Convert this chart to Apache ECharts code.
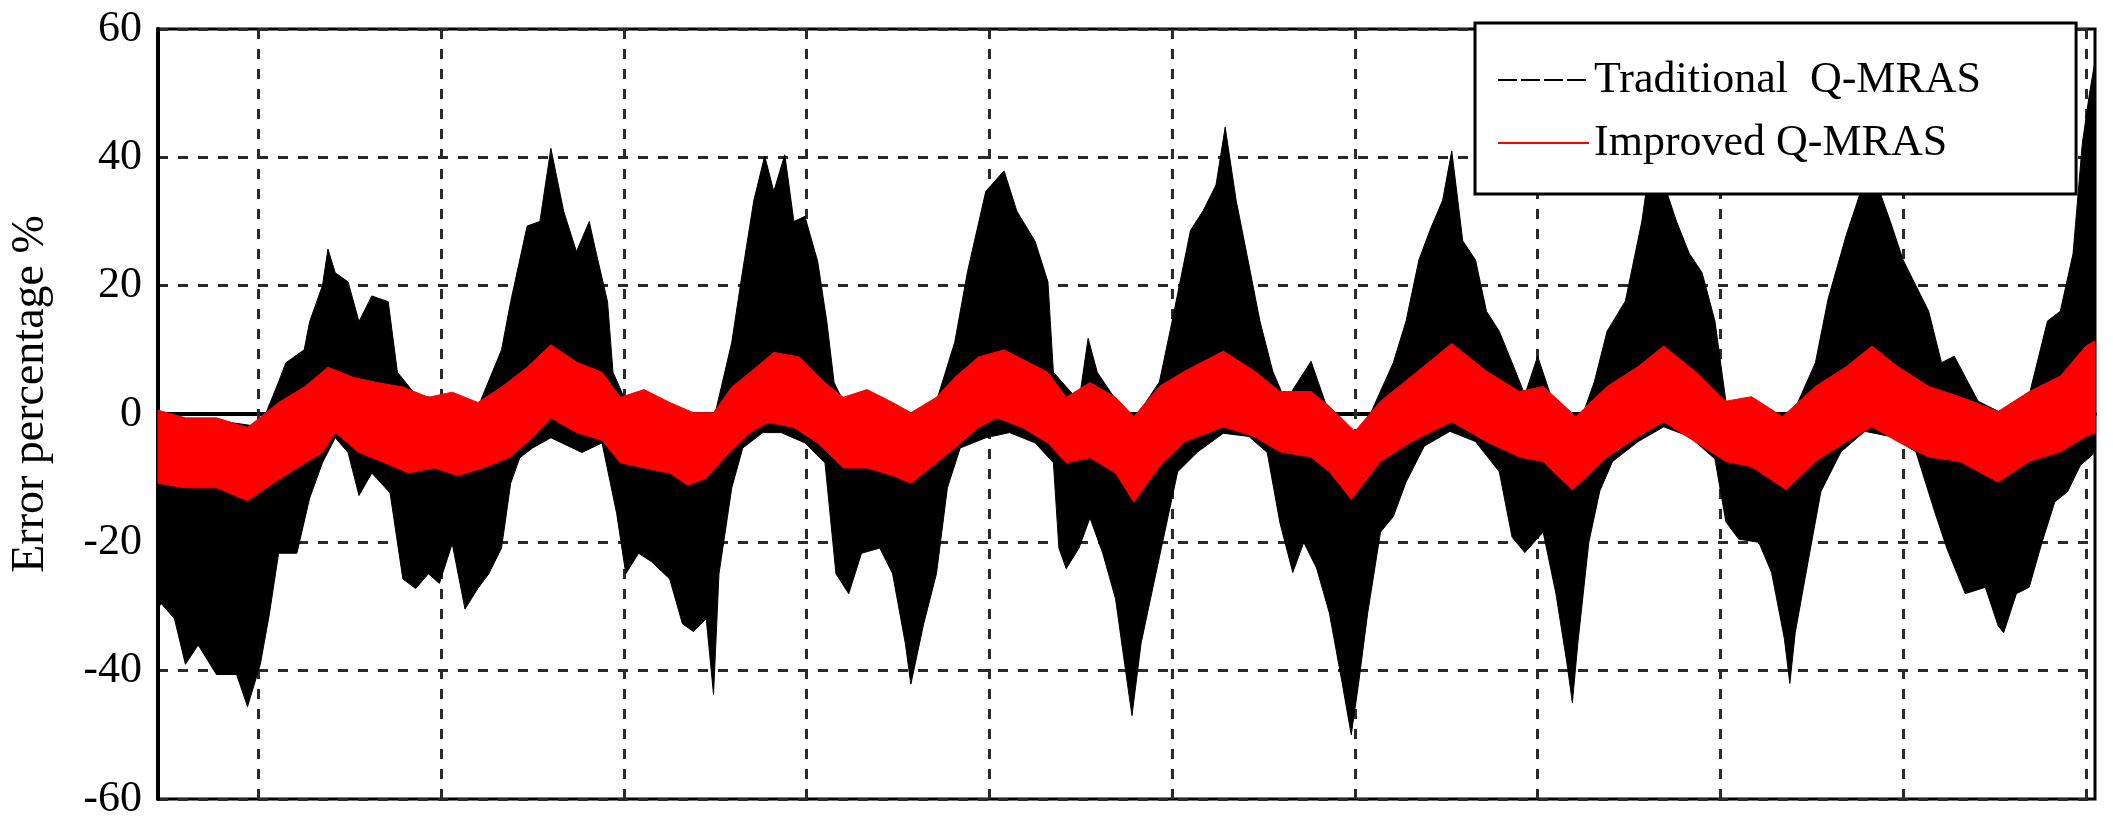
<!DOCTYPE html>
<html>
<head>
<meta charset="utf-8">
<script src="https://cdn.jsdelivr.net/npm/echarts@6/dist/echarts.min.js"></script>
<style>
html, body { margin: 0; padding: 0; background: #fff; }
#chart { width: 2113px; height: 830px; }
</style>
</head>
<body>
<div id="chart"></div>
<script>
// time (s) where the dashed vertical grid lines sit
const xGridTicks = [0.1, 0.2, 0.3, 0.4, 0.5, 0.6, 0.7, 0.8, 0.9, 1.0, 1.1];

// Traditional Q-MRAS: upper / lower edge of the noisy band, [t, error %]
const tradUpper = [
  [0.045, -1], [0.077, -1], [0.101, -2], [0.111, 5], [0.115, 8], [0.125, 10], [0.128, 14.4],
  [0.135, 20], [0.138, 25.7], [0.142, 22], [0.149, 20.6], [0.155, 14.4], [0.162, 18.4],
  [0.171, 17.5], [0.176, 6.5], [0.186, 3], [0.206, 2], [0.220, 1], [0.233, 10], [0.238, 17.5],
  [0.247, 29.3], [0.254, 30], [0.260, 41.4], [0.267, 31.6], [0.274, 25.3], [0.281, 30],
  [0.284, 26.1], [0.291, 17.5], [0.294, 6.5], [0.301, 2], [0.325, 1], [0.349, -1],
  [0.359, 11.2], [0.364, 20.6], [0.371, 33.2], [0.377, 40.2], [0.382, 34.7], [0.388, 40.4],
  [0.393, 30], [0.399, 30.8], [0.406, 23.8], [0.411, 14.4], [0.415, 4.9], [0.420, 2],
  [0.433, 2.5], [0.457, -1], [0.471, 2], [0.481, 11.2], [0.488, 22.2], [0.498, 34.7],
  [0.508, 37.9], [0.515, 31.6], [0.525, 26.9], [0.532, 20.6], [0.535, 6.5], [0.549, 2],
  [0.554, 11.8], [0.559, 6.5], [0.572, 1], [0.579, -1], [0.593, 5], [0.600, 14.5],
  [0.610, 28.6], [0.617, 31.7], [0.624, 35.7], [0.629, 44.7], [0.635, 33.3], [0.641, 24.7],
  [0.648, 14.5], [0.655, 6.7], [0.662, 2], [0.676, 8.2], [0.686, 0], [0.700, -5], [0.710, 1],
  [0.721, 8], [0.728, 14.5], [0.735, 24], [0.741, 28.6], [0.748, 33.3], [0.753, 41],
  [0.759, 27], [0.766, 24], [0.772, 16], [0.779, 12.9], [0.786, 8], [0.793, 3], [0.800, 9],
  [0.807, 3], [0.821, -3], [0.831, 5], [0.838, 12.9], [0.848, 17.6], [0.857, 30], [0.862, 40],
  [0.869, 36], [0.876, 30], [0.883, 25], [0.890, 22], [0.897, 14.5], [0.903, 2], [0.910, 1],
  [0.924, 1], [0.938, -1], [0.952, 8], [0.959, 18], [0.969, 28], [0.976, 34], [0.983, 38],
  [0.993, 30], [1.000, 24], [1.007, 20], [1.014, 16], [1.021, 8], [1.028, 9], [1.041, 2],
  [1.055, 0], [1.069, 3], [1.079, 14.5], [1.086, 16], [1.093, 25], [1.098, 42], [1.102, 50],
  [1.105, 55]
];
const tradLower = [
  [0.045, -30], [0.047, -29.6], [0.054, -31.9], [0.060, -39], [0.067, -36], [0.077, -40.6],
  [0.088, -40.6], [0.094, -45.6], [0.101, -39], [0.106, -31.1], [0.111, -21.7], [0.121, -21.7],
  [0.128, -13.1], [0.135, -7.6], [0.142, -3.7], [0.149, -6], [0.155, -12.7], [0.162, -9.2],
  [0.172, -12.3], [0.179, -25.7], [0.186, -27.2], [0.193, -24.9], [0.199, -26.4], [0.206, -20.2],
  [0.213, -30.4], [0.220, -27.2], [0.226, -24.9], [0.233, -20.9], [0.238, -10.8], [0.243, -6.8],
  [0.250, -5.3], [0.260, -3.7], [0.277, -6], [0.288, -4.5], [0.296, -15.5], [0.301, -24.9],
  [0.308, -21.7], [0.315, -23], [0.325, -25.7], [0.332, -32.7], [0.338, -33.9], [0.345, -31.9],
  [0.349, -43.7], [0.352, -24.9], [0.359, -11.5], [0.365, -5.3], [0.376, -2.9], [0.386, -2.9],
  [0.399, -4.5], [0.410, -7.6], [0.416, -24.9], [0.423, -28], [0.430, -21.7], [0.440, -20.9],
  [0.447, -24.9], [0.454, -35.8], [0.457, -42.1], [0.464, -32.7], [0.471, -24.9], [0.477, -11.5],
  [0.484, -5.3], [0.498, -3.7], [0.511, -2.9], [0.525, -4.5], [0.535, -7.6], [0.538, -20.9],
  [0.542, -24.1], [0.549, -20.9], [0.555, -16.2], [0.562, -21.7], [0.569, -28.8], [0.574, -39],
  [0.578, -47], [0.583, -35.7], [0.590, -26.3], [0.597, -17], [0.603, -9], [0.614, -5.9],
  [0.628, -3], [0.642, -3.5], [0.652, -6], [0.659, -17], [0.666, -24.7], [0.672, -20],
  [0.679, -24], [0.686, -31], [0.693, -41.9], [0.698, -50], [0.702, -42], [0.707, -31],
  [0.714, -18.4], [0.721, -16], [0.728, -10.6], [0.738, -5], [0.752, -2.7], [0.766, -4.3],
  [0.779, -9], [0.786, -19.2], [0.793, -21.6], [0.803, -18.4], [0.810, -28], [0.816, -38.8],
  [0.819, -45], [0.822, -35.7], [0.828, -20], [0.834, -12], [0.841, -7.4], [0.855, -4.3],
  [0.869, -2], [0.883, -3.5], [0.897, -7], [0.903, -16.8], [0.910, -19.5], [0.921, -20],
  [0.928, -24.7], [0.935, -35], [0.938, -42], [0.941, -34], [0.948, -23], [0.955, -12.1],
  [0.966, -5.9], [0.979, -2.7], [0.993, -3.5], [1.007, -5.9], [1.017, -15], [1.024, -21],
  [1.034, -28], [1.045, -27], [1.052, -33], [1.055, -34.1], [1.062, -28], [1.069, -27],
  [1.076, -20], [1.083, -13.7], [1.090, -12.1], [1.097, -8], [1.105, -6]
];

// Improved Q-MRAS: upper / lower edge of the band
const impUpper = [
  [0.045, 0.6], [0.060, -0.6], [0.077, -0.6], [0.094, -2.1], [0.111, 1.8], [0.125, 4.2],
  [0.138, 7.3], [0.152, 5.7], [0.165, 4.9], [0.179, 4.2], [0.193, 2.6], [0.206, 3.4],
  [0.220, 1.8], [0.233, 4.2], [0.247, 7.3], [0.260, 10.8], [0.274, 8.1], [0.288, 6.5],
  [0.298, 2.6], [0.311, 3.8], [0.325, 1.8], [0.338, 0.2], [0.349, 0.2], [0.359, 4.2],
  [0.369, 6.5], [0.382, 9.6], [0.396, 8.9], [0.410, 4.9], [0.420, 2.6], [0.433, 3.8],
  [0.447, 1.8], [0.457, 0.2], [0.471, 2.6], [0.481, 5.7], [0.494, 8.9], [0.508, 10.0],
  [0.521, 8.1], [0.532, 6.5], [0.542, 2.6], [0.555, 4.9], [0.569, 2.6], [0.579, -0.4],
  [0.593, 4.3], [0.607, 6.7], [0.628, 9.8], [0.645, 6.7], [0.659, 3.5], [0.676, 3.5],
  [0.686, 1.2], [0.700, -2.7], [0.714, 2.0], [0.731, 5.9], [0.753, 11.0], [0.772, 6.7],
  [0.790, 3.5], [0.803, 4.3], [0.821, -0.4], [0.838, 4.3], [0.855, 7.4], [0.869, 10.6],
  [0.886, 6.7], [0.903, 2.0], [0.917, 2.7], [0.934, -0.4], [0.952, 4.3], [0.969, 7.4],
  [0.983, 10.6], [0.997, 7.4], [1.014, 4.3], [1.031, 2.7], [1.052, 0.4], [1.069, 3.5],
  [1.086, 5.9], [1.100, 10.6], [1.105, 11.4]
];
const impLower = [
  [0.045, -10.8], [0.060, -11.5], [0.077, -11.5], [0.094, -13.5], [0.108, -10.8], [0.121, -8.4],
  [0.135, -6.0], [0.142, -2.9], [0.155, -6.0], [0.169, -7.6], [0.182, -9.2], [0.196, -8.4],
  [0.209, -9.6], [0.223, -8.4], [0.237, -6.8], [0.250, -3.7], [0.260, -0.6], [0.274, -2.9],
  [0.288, -4.1], [0.298, -7.6], [0.311, -8.4], [0.325, -9.2], [0.335, -11.1], [0.345, -10.0],
  [0.355, -6.8], [0.369, -2.9], [0.379, -1.3], [0.393, -2.1], [0.406, -4.5], [0.420, -8.4],
  [0.433, -8.4], [0.447, -9.6], [0.457, -10.8], [0.471, -7.6], [0.481, -5.3], [0.494, -2.1],
  [0.504, -0.6], [0.518, -2.1], [0.532, -4.5], [0.542, -7.6], [0.555, -6.8], [0.569, -9.2],
  [0.579, -13.7], [0.593, -8.2], [0.607, -4.3], [0.628, -2.0], [0.645, -3.5], [0.659, -5.9],
  [0.676, -6.7], [0.686, -9.0], [0.698, -13.3], [0.714, -7.4], [0.731, -4.3], [0.753, -1.2],
  [0.772, -4.3], [0.790, -6.7], [0.803, -7.4], [0.819, -11.8], [0.838, -6.7], [0.855, -3.5],
  [0.869, -1.2], [0.886, -4.3], [0.903, -7.4], [0.917, -8.2], [0.936, -11.8], [0.952, -7.4],
  [0.969, -4.3], [0.983, -2.0], [0.997, -4.3], [1.014, -6.7], [1.031, -7.4], [1.052, -10.6],
  [1.069, -7.4], [1.086, -5.9], [1.100, -3.5], [1.105, -3]
];

const serif = '"Times New Roman", "Liberation Serif", serif';
const gridDash = { color: '#2a2a2a', width: 3, type: [10, 10] };

// closed band: upper edge left->right, lower edge back right->left
function band(upper, lower, color) {
  return (params, api) => {
    const pts = upper.map(p => api.coord(p))
      .concat(lower.slice().reverse().map(p => api.coord(p)));
    return {
      type: 'polygon',
      shape: { points: pts },
      style: { fill: color, stroke: color, lineWidth: 1 }
    };
  };
}

const myChart = echarts.init(document.getElementById('chart'));

const option = {
  animation: false,
  backgroundColor: '#fff',
  grid: {
    left: 144,
    right: 18,
    top: 29,
    bottom: 31,
    show: true,
    borderColor: '#000',
    borderWidth: 3
  },
  legend: {
    data: ['Traditional  Q-MRAS', 'Improved Q-MRAS'],
    orient: 'vertical',
    left: 1475,
    top: 23,
    z: 20,
    padding: [35, 95, 29, 22],
    itemGap: 19,
    itemWidth: 91,
    itemHeight: 14,
    backgroundColor: '#fff',
    borderColor: '#000',
    borderWidth: 3,
    borderRadius: 0,
    selectedMode: false,
    // only the line sample, no marker dot
    itemStyle: { opacity: 0 },
    textStyle: {
      fontFamily: serif,
      fontSize: 44,
      color: '#000'
    }
  },
  xAxis: {
    type: 'value',
    min: 0.045,
    max: 1.105,
    axisLine: { lineStyle: { color: '#000', width: 4 } },
    axisTick: { show: false },
    axisLabel: { show: false },
    splitLine: { show: false }
  },
  yAxis: {
    type: 'value',
    min: -60,
    max: 60,
    interval: 20,
    name: 'Error percentage %',
    nameLocation: 'middle',
    nameGap: 104,
    nameTextStyle: { fontFamily: serif, fontSize: 46, color: '#000', padding: [0, 0, 0, 40] },
    axisLine: { show: true, lineStyle: { color: '#000', width: 4 } },
    axisTick: { show: false },
    axisLabel: { fontFamily: serif, fontSize: 44, color: '#000', margin: 16 },
    splitLine: { lineStyle: gridDash }
  },
  series: [
    {
      type: 'line',
      name: 'Traditional  Q-MRAS',
      symbol: 'none',
      data: [],
      lineStyle: { color: '#000', width: 1.2, type: [19, 4] },
      itemStyle: { color: '#000' },
      markLine: {
        silent: true,
        symbol: 'none',
        label: { show: false },
        lineStyle: gridDash,
        data: xGridTicks.map(v => ({ xAxis: v }))
      }
    },
    {
      type: 'line',
      name: 'Improved Q-MRAS',
      symbol: 'none',
      data: [],
      lineStyle: { color: '#ff0000', width: 2.5 },
      itemStyle: { color: '#ff0000' }
    },
    {
      type: 'custom',
      coordinateSystem: 'cartesian2d',
      silent: true,
      clip: true,
      z: 10,
      renderItem: band(tradUpper, tradLower, '#000'),
      data: [[0.5, 0]]
    },
    {
      type: 'custom',
      coordinateSystem: 'cartesian2d',
      silent: true,
      clip: true,
      z: 11,
      renderItem: band(impUpper, impLower, '#ff0000'),
      data: [[0.5, 0]]
    }
  ]
};

myChart.setOption(option);
</script>
</body>
</html>
